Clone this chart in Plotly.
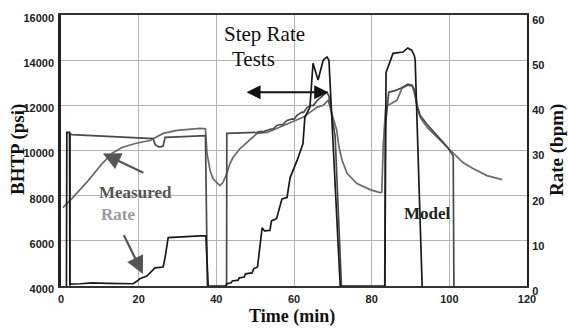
import plotly.graph_objects as go

# ---------------- data ----------------
time_measured = [0.5, 2.8, 7.0, 10.6, 13.1, 15.7, 19.1, 22.9, 26.3, 29.9, 35.8, 37.2, 37.6, 38.4, 39.1, 40.9,
                 41.7, 42.7, 43.5, 44.3, 46.1, 47.9, 50.5, 53.1, 55.6, 59.0, 62.3, 64.1, 65.9, 67.5, 68.8,
                 69.8, 71.0, 71.6, 72.4, 73.7, 76.2, 79.6, 82.1, 82.6, 83.0, 83.6, 84.2, 86.5, 87.8, 89.3,
                 90.5, 91.2, 91.7, 92.5, 94.3, 96.9, 99.5, 101.6, 103.5, 106.1, 109.7, 113.6]
bhtp_measured = [7467, 7867, 8667, 9422, 9867, 10133, 10311, 10444, 10756, 10889, 10978, 10960, 9867, 9111, 8756, 8444,
                 8578, 8978, 9422, 9689, 10089, 10356, 10756, 10800, 10978, 11200, 11467, 11689, 11911, 12000, 12222,
                 11600, 10900, 10133, 9556, 8978, 8533, 8267, 8133, 8150, 10300, 11900, 12000, 12222, 12756, 12889,
                 12850, 12400, 11911, 11467, 11022, 10578, 10133, 9750, 9467, 9200, 8889, 8711]

time_model = [2.3, 2.35, 2.8, 10, 18, 23.7, 24.3, 25.3, 26.3, 26.8, 30, 35.8, 37.2, 38.0,
              42.6, 42.7, 46, 50.5, 51.5, 52.0, 53.1, 54.0, 54.5, 55.6, 56.5, 57.0, 58.2, 59.5, 60.0, 60.8,
              62.0, 62.5, 63.4, 64.5, 65.0, 66.0, 67.5, 68.5, 69.0, 70.6, 73.2,
              83.3, 83.5, 84.0, 84.4, 86.0, 87.5, 89.3, 90.4, 91.0, 91.7, 92.5, 94.3, 96.9, 99.5, 101.0, 101.3]
bhtp_model = [0, 10750, 10700, 10650, 10580, 10530, 10250, 10150, 10200, 10580, 10600, 10640, 10660, 0,
              0, 10756, 10780, 10800, 10850, 10830, 10889, 10950, 10940, 11111, 11150, 11140, 11333, 11400, 11390, 11556,
              11700, 11690, 11911, 12000, 11990, 12222, 12444, 12578, 12400, 10600, 0,
              0, 11000, 12089, 12578, 12650, 12756, 12933, 12889, 12700, 12000, 11550, 11150, 10650, 10150, 9750, 0]

time_rate = [1.4, 1.5, 2.2, 2.3, 5, 8, 12, 16, 18.6, 19.6, 20.3, 22.1, 23.4, 24.2, 26.3, 26.8, 27.6, 30.6, 35.8, 37.3, 37.9,
             42.4, 42.7, 43.8, 44.1, 45.6, 45.9, 47.2, 47.5, 49.2, 49.6, 50.6, 51.8, 52.4, 53.8, 54.2, 55.5, 56.9, 58.2,
             59.0, 60.8, 62.3, 62.8, 64.1, 64.9, 66.2, 67.5, 68.5, 69.0, 71.9,
             83.4, 83.7, 85.5, 88.1, 89.3, 90.3, 91.0, 91.2, 93.0]
rate_bpm = [0, 34, 34, 0.4, 0.5, 0.7, 0.6, 0.5, 0.5, 1.1, 1.6, 2.2, 3.3, 4.0, 4.2, 6.3, 10.7, 10.9, 11.1, 11.1, 0,
            0, 0.5, 0.7, 1.1, 1.3, 1.8, 2.0, 2.7, 2.9, 3.8, 4.2, 12.9, 12.2, 12.3, 14.4, 14.9, 19.3, 19.6,
            24.0, 27.8, 31.5, 37.3, 39.6, 49.3, 45.6, 50.0, 50.7, 50.0, 0,
            0, 47.3, 51.5, 51.8, 52.7, 52.2, 51.0, 50.0, 0]

time_ticks = [0, 20, 40, 60, 80, 100, 120]
bhtp_ticks = [4000, 6000, 8000, 10000, 12000, 14000, 16000]
rate_ticks = [0, 10, 20, 30, 40, 50, 60]

# ---------------- figure ----------------
SERIF = "Liberation Serif, Times New Roman, serif"
TICKFONT = dict(family="Liberation Sans Narrow, Arial Narrow, Liberation Sans, Arial", size=11, color="#222", weight=700)

fig = go.Figure()
fig.add_trace(go.Scatter(x=time_measured, y=bhtp_measured, mode="lines",
                         line=dict(color="#6a6a6a", width=1.7), name="Measured", showlegend=False))
fig.add_trace(go.Scatter(x=time_model, y=bhtp_model, mode="lines",
                         line=dict(color="#4a4a4a", width=1.7), name="Model", showlegend=False))
fig.add_trace(go.Scatter(x=time_rate, y=rate_bpm, mode="lines", yaxis="y2",
                         line=dict(color="#1a1a1a", width=1.7), name="Rate", showlegend=False))

fig.update_layout(
    width=568, height=328,
    margin=dict(l=61, r=41, t=15, b=42),
    paper_bgcolor="white", plot_bgcolor="white",
    xaxis=dict(range=[0, 120], tickvals=time_ticks, showgrid=True, gridcolor="#b4b4b4", gridwidth=1,
               zeroline=False, showline=True, linecolor="#333", linewidth=2, mirror=True,
               ticks="", tickfont=TICKFONT, ticklabelstandoff=2),
    yaxis=dict(range=[4000, 16000], tickvals=bhtp_ticks, tickformat="d", showgrid=True, gridcolor="#b4b4b4",
               gridwidth=1, zeroline=False, showline=True, linecolor="#222", linewidth=2.5,
               ticks="", tickfont=TICKFONT, ticklabelshift=3, ticklabelstandoff=2),
    yaxis2=dict(range=[0, 60], tickvals=rate_ticks, tickformat="d", overlaying="y", side="right", showgrid=False,
                zeroline=False, showline=True, linecolor="#222", linewidth=2,
                ticks="", tickfont=TICKFONT, ticklabelshift=5, ticklabelstandoff=1),
)

annotations = [
    # axis titles
    dict(text="BHTP (psi)", xref="paper", yref="paper", x=(18 - 61) / 466, y=(286 - 150) / 271,
         xanchor="center", yanchor="middle",
         textangle=-90, showarrow=False, font=dict(family=SERIF, size=19, color="#111", weight=700)),
    dict(text="Rate (bpm)", xref="paper", yref="paper", x=(557 - 61) / 466, y=(286 - 150) / 271,
         xanchor="center", yanchor="middle",
         textangle=-90, showarrow=False, font=dict(family=SERIF, size=19, color="#111", weight=700)),
    dict(text="Time (min)", xref="paper", yref="paper", x=(292 - 61) / 466, y=(286 - 316) / 271,
         xanchor="center", yanchor="middle",
         showarrow=False, font=dict(family=SERIF, size=18, color="#111", weight=700)),
    # texts
    dict(text="Step Rate", x=52.5, y=15156, showarrow=False, xanchor="center", yanchor="middle",
         font=dict(family=SERIF, size=21, color="#111")),
    dict(text="Tests", x=49.6, y=14044, showarrow=False, xanchor="center", yanchor="middle",
         font=dict(family=SERIF, size=21, color="#111")),
    dict(text="Measured", x=19.1, y=8133, showarrow=False, xanchor="center", yanchor="middle",
         font=dict(family=SERIF, size=17, color="#555", weight=700)),
    dict(text="Rate", x=14.7, y=7156, showarrow=False, xanchor="center", yanchor="middle",
         font=dict(family=SERIF, size=17, color="#9a9a9a", weight=700)),
    dict(text="Model", x=94.3, y=7200, showarrow=False, xanchor="center", yanchor="middle",
         font=dict(family=SERIF, size=17, color="#222", weight=700)),
    # arrows
    dict(text="", x=10.8, y=9867, ax=21.6, ay=8978, xref="x", yref="y", axref="x", ayref="y",
         showarrow=True, arrowhead=2, arrowsize=1.6, arrowwidth=2.2, arrowcolor="#555"),
    dict(text="", x=21.1, y=4533, ax=16.0, ay=6311, xref="x", yref="y", axref="x", ayref="y",
         showarrow=True, arrowhead=2, arrowsize=1.6, arrowwidth=2.2, arrowcolor="#555"),
    dict(text="", x=68.8, y=12578, ax=47.4, ay=12578, xref="x", yref="y", axref="x", ayref="y",
         showarrow=True, arrowhead=2, startarrowhead=2, arrowside="end+start",
         arrowsize=1.4, startarrowsize=1.4, arrowwidth=2, arrowcolor="#111"),
]
fig.update_layout(annotations=annotations)

fig.write_html("out.html")
